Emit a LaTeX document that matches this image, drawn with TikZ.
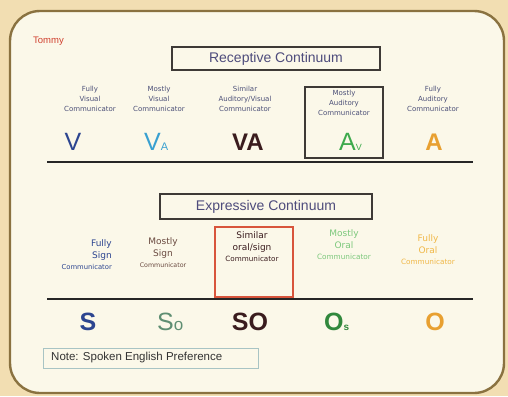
\documentclass[tikz,border=0pt]{standalone}
\usepackage{fontspec}
\setmainfont{Liberation Sans}
\newfontfamily\lblfont{DejaVu Sans}
\definecolor{outerbg}{HTML}{F2DEB2}
\definecolor{panelbg}{HTML}{FBF8E9}
\definecolor{panelline}{HTML}{8A7240}
\definecolor{titletext}{HTML}{4E4C7C}
\definecolor{boxline}{HTML}{3E3A36}
\definecolor{lbltext}{HTML}{4C5078}
\definecolor{tommyred}{HTML}{D0402E}
\definecolor{cV}{HTML}{2C4590}
\definecolor{cVA}{HTML}{38A0D0}
\definecolor{cdark}{HTML}{3A1C1E}
\definecolor{cgreen}{HTML}{3DAA4C}
\definecolor{corange}{HTML}{E8A030}
\definecolor{cso}{HTML}{5E8E72}
\definecolor{cbrown}{HTML}{6A4A40}
\definecolor{lightgreen}{HTML}{7CC87C}
\definecolor{lightorange}{HTML}{F0B848}
\definecolor{redbox}{HTML}{D8553C}
\definecolor{notebox}{HTML}{A8C4C4}
\tikzset{
  titlebox/.style={draw=boxline, line width=1.1pt, text=titletext, font=\fontsize{14}{16}\selectfont, inner sep=0pt},
  rlabel/.style={font=\lblfont\fontsize{7}{10.3}\selectfont, text=lbltext, align=center},
  bigletter/.style={font=\fontsize{25}{25}\selectfont, anchor=base, inner sep=0pt},
  sepline/.style={draw=black!85, line width=1.4pt},
  elabel/.style={align=center, inner sep=0pt}
}
\newcommand{\smallcomm}{\fontsize{6.8}{8}\selectfont}
\newcommand{\bigword}{\fontsize{9}{10}\selectfont}
\begin{document}
\begin{tikzpicture}[x=1pt,y=-1pt]
\fill[outerbg] (0,0) rectangle (508,396);
\useasboundingbox (0,0) rectangle (508,396);
\draw[draw=panelline, fill=panelbg, line width=2.4pt, rounded corners=30pt] (10,11) rectangle (504,393);

\node[font=\fontsize{9.5}{10}\selectfont, text=tommyred, anchor=west, inner sep=0pt] (tommy) at (33,41.5) {Tommy};

% Receptive
\node[titlebox, minimum width=208pt, minimum height=23pt] (rec) at (276,58.5) {Receptive Continuum};
\node[rlabel] (r1) at (90,99) {Fully\\Visual\\Communicator};
\node[rlabel] (r2) at (159,99) {Mostly\\Visual\\Communicator};
\node[rlabel] (r3) at (245,99) {Similar\\Auditory/Visual\\Communicator};
\node[draw=boxline, line width=1.3pt, minimum width=78pt, minimum height=71pt] (abox) at (344,122.5) {};
\node[rlabel] (r4) at (344,103) {Mostly\\Auditory\\Communicator};
\node[rlabel] (r5) at (433,99) {Fully\\Auditory\\Communicator};

\node[bigletter, text=cV] (lV) at (73,150) {V};
\node[bigletter, text=cVA, anchor=base west] (lVA) at (144,150) {V{\fontsize{11}{11}\selectfont A}};
\node[bigletter, text=cdark, font=\fontsize{24}{24}\selectfont\bfseries] (lVAb) at (248,150) {VA};
\node[bigletter, text=cgreen, anchor=base west] (lAV) at (339,150) {A{\fontsize{9}{9}\selectfont V}};
\node[bigletter, text=corange, font=\fontsize{24}{24}\selectfont\bfseries] (lA) at (434,150) {A};
\draw[sepline] (47,162) -- (473,162);

% Expressive
\node[titlebox, minimum width=212pt, minimum height=25pt] (exp) at (266,206.5) {Expressive Continuum};
\node[draw=redbox, line width=1.2pt, minimum width=78pt, minimum height=70pt] (sbox) at (254,262) {};
\node[elabel, text=cV, anchor=north east, align=right] (e1) at (112,239) {{\lblfont\bigword Fully}\\{\lblfont\bigword Sign}\\[-1pt]{\lblfont\smallcomm Communicator}};
\node[elabel, text=cbrown, anchor=north] (e2) at (163,237) {{\lblfont\bigword Mostly}\\{\lblfont\bigword Sign}\\[-1pt]{\lblfont\fontsize{6.3}{8}\selectfont Communicator}};
\node[elabel, text=cdark, anchor=north] (e3) at (252,231.5) {{\lblfont\fontsize{9}{10}\selectfont Similar}\\{\lblfont\fontsize{9}{10}\selectfont oral/sign}\\[-1pt]{\lblfont\fontsize{7.2}{8}\selectfont Communicator}};
\node[elabel, text=lightgreen, anchor=north] (e4) at (344,229) {{\lblfont\fontsize{9}{10}\selectfont Mostly}\\{\lblfont\fontsize{9}{10}\selectfont Oral}\\[-1pt]{\lblfont\fontsize{7.3}{8}\selectfont Communicator}};
\node[elabel, text=lightorange, anchor=north] (e5) at (428,234) {{\lblfont\bigword Fully}\\{\lblfont\bigword Oral}\\[-1pt]{\lblfont\fontsize{7.3}{8}\selectfont Communicator}};
\draw[sepline] (47,299) -- (473,299);

\node[bigletter, text=cV, font=\fontsize{25}{25}\selectfont\bfseries] (lS) at (88,330) {S};
\node[bigletter, text=cso, anchor=base west] (lSo) at (157,330) {S{\fontsize{17}{17}\selectfont o}};
\node[bigletter, text=cdark, font=\fontsize{25}{25}\selectfont\bfseries] (lSO) at (250,330) {SO};
\node[bigletter, text=cgreen!80!black, font=\fontsize{25}{25}\selectfont\bfseries, anchor=base west] (lOs) at (324,330) {O{\fontsize{10}{10}\selectfont s}};
\node[bigletter, text=corange, font=\fontsize{25}{25}\selectfont\bfseries] (lO) at (435,330) {O};

\node[draw=notebox, line width=0.9pt, minimum width=215pt, minimum height=20pt] (note) at (150.5,358) {};
\node[anchor=west, font=\fontsize{11.5}{13}\selectfont, text=black!80, inner sep=0pt] (notetext) at (51,358) {Note: Spoken English Preference};
\end{tikzpicture}
\end{document}
